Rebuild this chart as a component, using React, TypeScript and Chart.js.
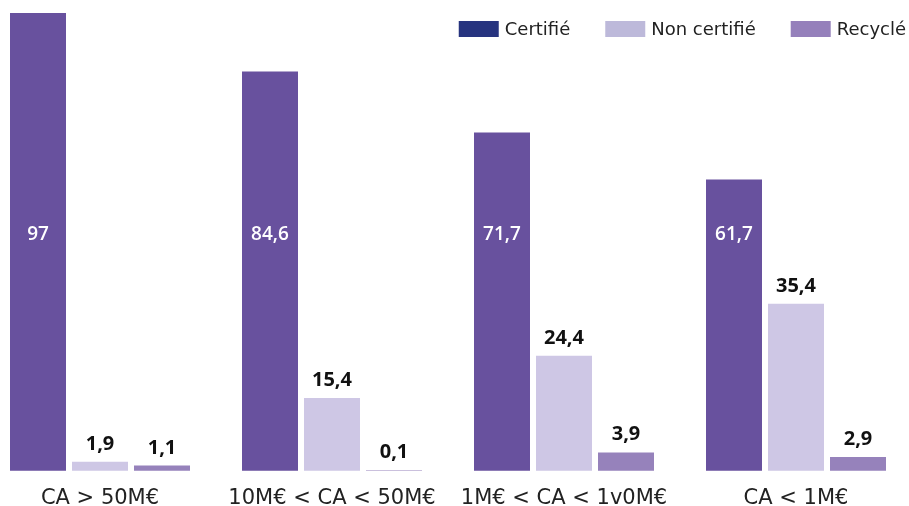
import React, { useEffect, useRef } from "react";
import { Chart, registerables } from "chart.js";

Chart.register(...registerables);

const categories = ["CA > 50M€", "10M€ < CA < 50M€", "1M€ < CA < 1v0M€", "CA < 1M€"];
const seriesNames = ["Certifié", "Non certifié", "Recyclé"];
const certifie = [97, 84.6, 71.7, 61.7];
const nonCertifie = [1.9, 15.4, 24.4, 35.4];
const recycle = [1.1, 0.1, 3.9, 2.9];
const barColors = ["#68519e", "#cec7e5", "#9682bb"];
const legendColors = ["#27347f", "#bdb9da", "#9580bb"];

const LABEL_FONT = "'Open Sans', sans-serif";
const AXIS_FONT = "'DejaVu Sans', sans-serif";

const fmt = (v: number) => String(v).replace(".", ",");

const labelsPlugin = {
  id: "valueLabels",
  afterDatasetsDraw(chart: any) {
    const { ctx, chartArea } = chart;
    ctx.save();
    ctx.textAlign = "center";
    chart.data.datasets.forEach((ds: any, di: number) => {
      const meta = chart.getDatasetMeta(di);
      meta.data.forEach((bar: any, i: number) => {
        const v = ds.data[i];
        if (di === 0) {
          ctx.fillStyle = "#ffffff";
          ctx.font = `600 19px ${LABEL_FONT}`;
          ctx.textBaseline = "middle";
          ctx.fillText(fmt(v), bar.x, (chartArea.top + chartArea.bottom) / 2 - 7);
        } else {
          ctx.fillStyle = "#111111";
          ctx.font = `bold 20px ${LABEL_FONT}`;
          ctx.textBaseline = "alphabetic";
          ctx.fillText(fmt(v), bar.x, bar.y - 12);
        }
      });
    });
    ctx.restore();
  },
};

const legendPlugin = {
  id: "customLegend",
  afterDraw(chart: any) {
    const { ctx } = chart;
    ctx.save();
    ctx.font = `18px ${AXIS_FONT}`;
    ctx.textBaseline = "middle";
    ctx.textAlign = "left";
    const boxW = 40;
    const boxH = 16;
    const gapText = 6;
    const gapItem = 35;
    const right = 906;
    const y = 29;
    const widths = seriesNames.map((n) => boxW + gapText + ctx.measureText(n).width);
    const total = widths.reduce((a, b) => a + b, 0) + gapItem * (widths.length - 1);
    let x = right - total;
    seriesNames.forEach((n, i) => {
      ctx.fillStyle = legendColors[i];
      ctx.fillRect(x, y - boxH / 2, boxW, boxH);
      ctx.fillStyle = "#222222";
      ctx.fillText(n, x + boxW + gapText, y + 1);
      x += widths[i] + gapItem;
    });
    ctx.restore();
  },
};

export default function App() {
  const ref = useRef<HTMLCanvasElement>(null);
  useEffect(() => {
    if (!ref.current) return;
    const chart = new Chart(ref.current, {
      type: "bar",
      data: {
        labels: categories,
        datasets: [
          { label: seriesNames[0], data: certifie, backgroundColor: barColors[0] },
          { label: seriesNames[1], data: nonCertifie, backgroundColor: barColors[1] },
          { label: seriesNames[2], data: recycle, backgroundColor: barColors[2] },
        ],
      },
      options: {
        responsive: false,
        animation: false,
        clip: false as any,
        categoryPercentage: 186 / 232,
        barPercentage: 56 / 62,
        layout: { padding: { top: 13, left: 100, right: 113, bottom: -20 } },
        plugins: {
          legend: { display: false },
          tooltip: { enabled: false },
        },
        scales: {
          x: {
            offset: false,
            grid: { display: false, drawTicks: false },
            border: { display: false },
            ticks: {
              color: "#222222",
              font: { family: AXIS_FONT, size: 21 },
              padding: 15,
              maxRotation: 0,
              autoSkip: false,
            },
          },
          y: {
            display: false,
            min: 0,
            max: 97,
          },
        },
      },
      plugins: [labelsPlugin, legendPlugin],
    });
    return () => chart.destroy();
  }, []);
  return (
    <div style={{ position: "absolute", left: 0, top: 0, width: 909, height: 506, background: "#fff" }}>
      <canvas ref={ref} width={909} height={506} style={{ display: "block" }} />
    </div>
  );
}
